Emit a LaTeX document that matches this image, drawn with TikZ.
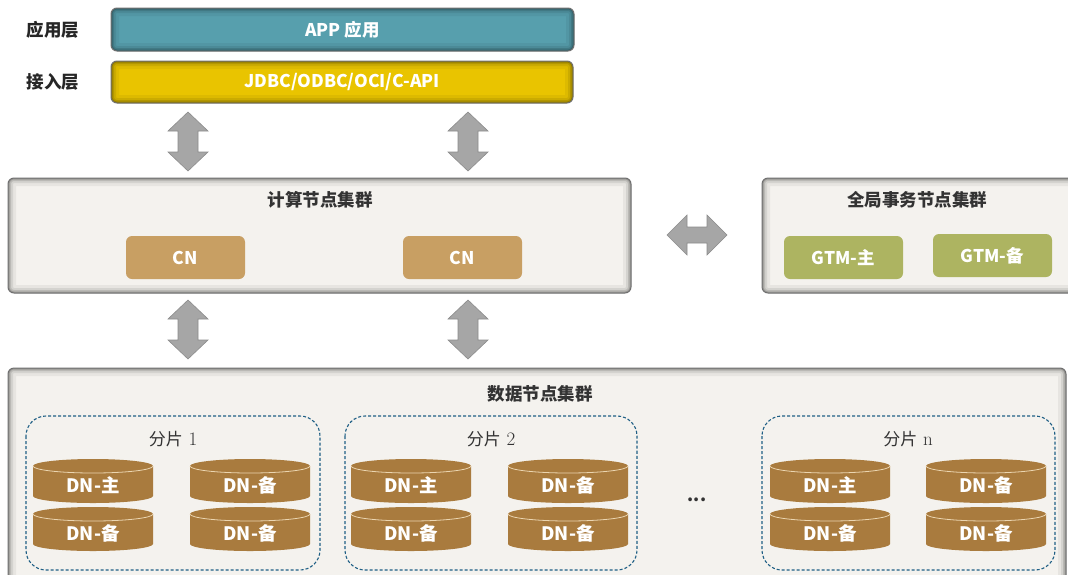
\documentclass[tikz,border=0pt]{standalone}
\usepackage{fontspec}
\newfontfamily\cjk{Noto Sans CJK SC}
\definecolor{appc}{HTML}{579FAD}
\definecolor{jdbcc}{HTML}{E9C400}
\definecolor{bgc}{HTML}{F4F2EE}
\definecolor{edgec}{HTML}{707070}
\definecolor{cnc}{HTML}{C89F63}
\definecolor{gtmc}{HTML}{ADB461}
\definecolor{dnc}{HTML}{A97B3E}
\definecolor{dnl}{HTML}{EBD5B0}
\definecolor{arrc}{HTML}{A6A6A6}
\definecolor{arre}{HTML}{8C8C8C}
\definecolor{dashc}{HTML}{1F5F85}
\definecolor{ttlc}{HTML}{333333}
\begin{document}
\begin{tikzpicture}[x=1pt,y=1pt,
  lbl/.style={font=\cjk\bfseries\fontsize{17.5}{20}\selectfont, text=white, inner sep=0pt},
  ttl/.style={font=\cjk\bfseries\fontsize{17.5}{20}\selectfont, text=ttlc, inner sep=0pt},
  side/.style={font=\cjk\bfseries\fontsize{17.5}{20}\selectfont, text=black!85, inner sep=0pt},
  shardlbl/.style={font=\fontsize{19}{20}\selectfont, text=ttlc, inner sep=0pt},
  shadowed/.style={draw=edgec, line width=1pt, rounded corners=6pt,
    path picture={
      \draw[black, opacity=0.05, line width=16pt, rounded corners=6pt]
        (path picture bounding box.south west) rectangle (path picture bounding box.north east);
      \draw[black, opacity=0.08, line width=10pt, rounded corners=6pt]
        (path picture bounding box.south west) rectangle (path picture bounding box.north east);
      \draw[black, opacity=0.12, line width=6pt, rounded corners=6pt]
        (path picture bounding box.south west) rectangle (path picture bounding box.north east);
      \draw[black, opacity=0.18, line width=3pt, rounded corners=6pt]
        (path picture bounding box.south west) rectangle (path picture bounding box.north east);
    }},
  cluster/.style={shadowed, fill=bgc, inner sep=0pt},
  bar/.style={shadowed, inner sep=0pt, font=\cjk\bfseries\fontsize{17.5}{20}\selectfont, text=white},
  small/.style={rounded corners=6pt, inner sep=0pt, minimum width=119pt, minimum height=43pt,
    font=\cjk\bfseries\fontsize{17.5}{20}\selectfont, text=white},
  shard/.style={draw=dashc, line width=1.1pt, dash pattern=on 3pt off 2pt, rounded corners=20pt},
  barrow/.style={fill=arrc, draw=arre, line width=0.6pt, line join=miter},
]
\useasboundingbox (0,0) rectangle (1068,-574);
\clip (0,0) rectangle (1068,-574);
\fill[white] (0,0) rectangle (1068,-574);

\newcommand\vdarrow[3]{% cx, ytop, ybot (pixels)
  \filldraw[barrow] (#1,-#2) -- (#1+20,-#2-19) -- (#1+10,-#2-19) -- (#1+10,-#3+19)
    -- (#1+20,-#3+19) -- (#1,-#3) -- (#1-20,-#3+19) -- (#1-10,-#3+19)
    -- (#1-10,-#2-19) -- (#1-20,-#2-19) -- cycle;}
\newcommand\dncyl[4]{% name, cx, cy, label
  \fill[dnc] (#2-60,-#3+15) -- (#2-60,-#3-15) arc[start angle=180,end angle=360,x radius=60,y radius=7]
    -- (#2+60,-#3+15) arc[start angle=0,end angle=180,x radius=60,y radius=7] -- cycle;
  \draw[dnl, line width=0.8pt] (#2-60,-#3+15) arc[start angle=180,end angle=360,x radius=60,y radius=7];
  \node[lbl, font=\cjk\bfseries\fontsize{18.5}{20}\selectfont] (#1) at (#2,-#3-4) {#4};}

% top layers
\node[side] (lapp) at (53,-30) {应用层};
\node[side] (ljdbc) at (53,-82) {接入层};
\node[bar, fill=appc, minimum width=463pt, minimum height=43pt] (app) at (342.5,-29.5) {APP 应用};
\node[bar, fill=jdbcc, minimum width=462pt, minimum height=42pt] (jdbc) at (342,-82) {JDBC/ODBC/OCI/C-API};

% compute cluster
\node[cluster, minimum width=623pt, minimum height=115pt] (cc) at (319.5,-235.5) {};
\node[ttl] (cct) at (320,-200) {计算节点集群};
\node[small, fill=cnc] (cn1) at (185.5,-257.5) {CN};
\node[small, fill=cnc] (cn2) at (462.5,-257.5) {CN};

% gtm cluster
\node[cluster, minimum width=320pt, minimum height=115pt] (gc) at (922,-235.5) {};
\node[ttl] (gct) at (917,-200) {全局事务节点集群};
\node[small, fill=gtmc] (gtm1) at (843.5,-257.5) {GTM-主};
\node[small, fill=gtmc] (gtm2) at (992.5,-255.5) {GTM-备};

% data cluster
\node[cluster, minimum width=1058pt, minimum height=230pt] (dc) at (537,-483) {};
\node[ttl] (dct) at (540,-394) {数据节点集群};

% arrows
\vdarrow{188}{112}{171}
\vdarrow{468}{112}{171}
\vdarrow{188}{300}{359}
\vdarrow{468}{300}{359}
\filldraw[barrow] (667,-235) -- (687,-215) -- (687,-227) -- (707,-227) -- (707,-215)
  -- (727,-235) -- (707,-255) -- (707,-243) -- (687,-243) -- (687,-255) -- cycle;

% shards
\draw[shard] (26,-416) rectangle (320,-570);
\draw[shard] (345,-416) rectangle (637,-570);
\draw[shard] (762,-416) rectangle (1055,-570);
\node[shardlbl] (s1) at (173,-439) {{\cjk\fontsize{17}{20}\selectfont 分片} 1};
\node[shardlbl] (s2) at (491,-439) {{\cjk\fontsize{17}{20}\selectfont 分片} 2};
\node[shardlbl] (sn) at (908,-439) {{\cjk\fontsize{17}{20}\selectfont 分片} n};

\dncyl{d11}{93}{481}{DN-主}
\dncyl{d12}{250}{481}{DN-备}
\dncyl{d13}{93}{529}{DN-备}
\dncyl{d14}{250}{529}{DN-备}
\dncyl{d21}{411}{481}{DN-主}
\dncyl{d22}{568}{481}{DN-备}
\dncyl{d23}{411}{529}{DN-备}
\dncyl{d24}{568}{529}{DN-备}
\dncyl{dn1}{830}{481}{DN-主}
\dncyl{dn2}{986}{481}{DN-备}
\dncyl{dn3}{830}{529}{DN-备}
\dncyl{dn4}{986}{529}{DN-备}

\node[ttl] (dots) at (697,-500) {...};
\end{tikzpicture}
\end{document}
